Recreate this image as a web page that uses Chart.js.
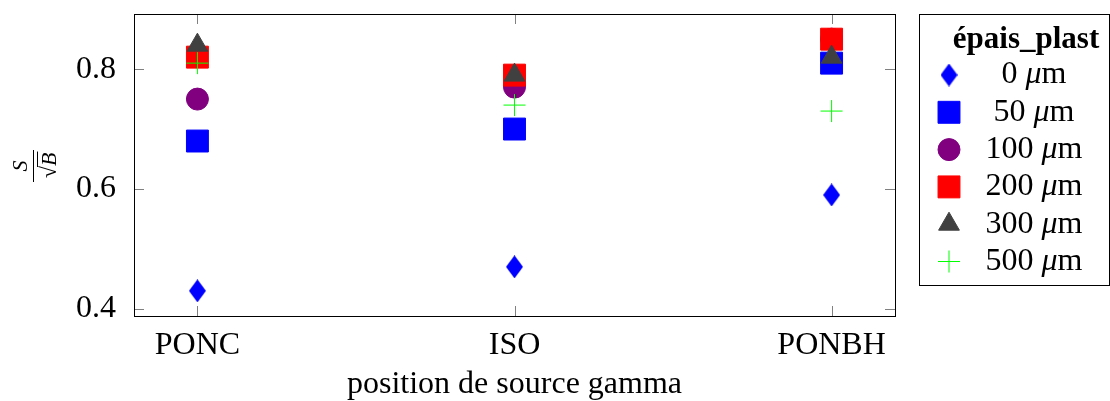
<!DOCTYPE html>
<html>
<head>
<meta charset="utf-8">
<script src="https://cdn.jsdelivr.net/npm/chart.js@4.4.0/dist/chart.umd.min.js"></script>
<style>
  html, body { margin: 0; padding: 0; background: #fff; }
  #wrap { width: 1110px; height: 401px; }
</style>
</head>
<body>
<div id="wrap"><canvas id="scatterChart" width="1110" height="401"></canvas></div>
<script>
/* ====== DATA ====== */
const positions = ['PONC', 'ISO', 'PONBH'];
const yTicks = [0.4, 0.6, 0.8];
const thicknessLabels = ['0 μm', '50 μm', '100 μm', '200 μm', '300 μm', '500 μm'];

const vals0 = [0.43, 0.47, 0.59];
const vals50 = [0.68, 0.70, 0.81];
const vals100 = [0.75, 0.77, 0.85];
const vals200 = [0.82, 0.79, 0.85];
const vals300 = [0.84, 0.79, 0.82];
const vals500 = [0.81, 0.74, 0.73];

const SERIF = "'Liberation Serif', 'DejaVu Serif', serif";

function toPoints(values) {
  return values.map((v, i) => ({ x: i, y: v }));
}

// narrow diamond marker (pgfplots style), drawn once on a small canvas
function makeDiamond(color, w, h) {
  const c = document.createElement('canvas');
  c.width = w; c.height = h;
  const g = c.getContext('2d');
  g.fillStyle = color;
  g.beginPath();
  g.moveTo(w / 2, 0); g.lineTo(w, h / 2); g.lineTo(w / 2, h); g.lineTo(0, h / 2);
  g.closePath();
  g.fill();
  return c;
}
const diamond = makeDiamond('#0000ff', 17, 23);

const seriesStyles = [
  { data: vals0,   color: '#0000ff', pointStyle: diamond,    radius: 11 },
  { data: vals50,  color: '#0000ff', pointStyle: 'rect',     radius: 15.5 },
  { data: vals100, color: '#800080', pointStyle: 'circle',   radius: 11 },
  { data: vals200, color: '#ff0000', pointStyle: 'rect',     radius: 15.5 },
  { data: vals300, color: '#404040', pointStyle: 'triangle', radius: 12 },
  { data: vals500, color: '#00ff00', pointStyle: 'cross',    radius: 11 }
];

const datasets = seriesStyles.map((s, i) => ({
  label: thicknessLabels[i],
  data: toPoints(s.data),
  pointStyle: s.pointStyle,
  pointRadius: s.radius,
  pointHoverRadius: s.radius,
  backgroundColor: s.color,
  borderColor: s.color,
  borderWidth: 1,
  order: seriesStyles.length - i   // later series drawn on top
}));

/* ====== PLUGINS ====== */
// box + inside ticks like pgfplots
const frameTicks = {
  id: 'frameTicks',
  afterDatasetsDraw(chart) {
    const { ctx, chartArea: a, scales } = chart;
    ctx.save();
    ctx.strokeStyle = '#808080';
    ctx.lineWidth = 1;
    const len = 10;
    scales.x.ticks.forEach(t => {
      const px = Math.round(scales.x.getPixelForValue(t.value)) + 0.5;
      ctx.beginPath();
      ctx.moveTo(px, a.bottom); ctx.lineTo(px, a.bottom - len);
      ctx.moveTo(px, a.top); ctx.lineTo(px, a.top + len);
      ctx.stroke();
    });
    scales.y.ticks.forEach(t => {
      const py = Math.round(scales.y.getPixelForValue(t.value)) + 0.5;
      ctx.beginPath();
      ctx.moveTo(a.left, py); ctx.lineTo(a.left + len, py);
      ctx.moveTo(a.right, py); ctx.lineTo(a.right - len, py);
      ctx.stroke();
    });
    ctx.strokeStyle = '#000';
    ctx.strokeRect(Math.round(a.left) + 0.5, Math.round(a.top) + 0.5,
      Math.round(a.right - a.left), Math.round(a.bottom - a.top));
    ctx.restore();
  }
};

// y title as a fraction S / sqrt(B)
const fractionTitle = {
  id: 'fractionTitle',
  afterDraw(chart) {
    const { ctx } = chart;
    ctx.save();
    ctx.translate(33, 166);
    ctx.rotate(-Math.PI / 2);
    ctx.fillStyle = '#000';
    ctx.strokeStyle = '#000';
    ctx.lineWidth = 1;
    ctx.textBaseline = 'alphabetic';
    ctx.font = 'italic 22px ' + SERIF;
    ctx.textAlign = 'center';
    ctx.fillText('S', 0, -6);
    ctx.beginPath();
    ctx.moveTo(-16, 0.5); ctx.lineTo(16, 0.5);
    ctx.stroke();
    ctx.font = '22px ' + SERIF;
    ctx.textAlign = 'right';
    ctx.fillText('√', 0, 23);
    ctx.font = 'italic 22px ' + SERIF;
    ctx.textAlign = 'left';
    const wB = ctx.measureText('B').width;
    ctx.fillText('B', 0, 23);
    ctx.beginPath();
    ctx.moveTo(-1, 4.5); ctx.lineTo(wB + 1, 4.5);
    ctx.stroke();
    ctx.restore();
  }
};

// legend box to the right of the plot
const sideLegend = {
  id: 'sideLegend',
  afterDraw(chart) {
    const { ctx } = chart;
    const box = { left: 919.5, top: 14.5, width: 190, height: 271 };
    ctx.save();
    ctx.strokeStyle = '#000';
    ctx.lineWidth = 1;
    ctx.strokeRect(box.left, box.top, box.width, box.height);
    ctx.fillStyle = '#000';
    ctx.textAlign = 'center';
    ctx.textBaseline = 'middle';
    ctx.font = 'bold 31px ' + SERIF;
    ctx.fillText('épais_plast', 1026, 40);
    chart.data.datasets.forEach((ds, i) => {
      const y = 75 + i * 37.3;
      ctx.fillStyle = ds.backgroundColor;
      ctx.strokeStyle = ds.borderColor;
      ctx.lineWidth = 1;
      Chart.helpers.drawPoint(ctx, { pointStyle: ds.pointStyle, radius: ds.pointRadius, borderWidth: 1 }, 949, y);
      // number upright, mu italic, unit upright
      const parts = ds.label.split(' ');
      const num = parts[0] + ' ';
      const up = '32px ' + SERIF, it = 'italic 32px ' + SERIF;
      ctx.font = up; const wNum = ctx.measureText(num).width;
      ctx.font = it; const wMu = ctx.measureText('μ').width;
      ctx.font = up; const wM = ctx.measureText('m').width;
      let x = 1034 - (wNum + wMu + wM) / 2;
      ctx.fillStyle = '#000';
      ctx.textAlign = 'left';
      ctx.font = up; ctx.fillText(num, x, y); x += wNum;
      ctx.font = it; ctx.fillText('μ', x, y); x += wMu;
      ctx.font = up; ctx.fillText('m', x, y);
      ctx.textAlign = 'center';
    });
    ctx.restore();
  }
};

/* ====== CHART ====== */
new Chart(document.getElementById('scatterChart').getContext('2d'), {
  type: 'scatter',
  data: { datasets },
  options: {
    responsive: false,
    animation: false,
    layout: { autoPadding: false, padding: { left: 0, top: 0, right: 215, bottom: 0 } },
    plugins: { legend: { display: false }, tooltip: { enabled: false } },
    scales: {
      x: {
        type: 'linear',
        min: -0.2,
        max: 2.2,
        afterBuildTicks: s => { s.ticks = positions.map((p, i) => ({ value: i })); },
        afterFit: s => { s.height = 85; },
        grid: { display: false },
        border: { display: false },
        ticks: {
          color: '#000',
          padding: 2,
          font: { family: SERIF, size: 32 },
          callback: v => positions[v]
        },
        title: {
          display: true,
          text: 'position de source gamma',
          color: '#000',
          font: { family: SERIF, size: 32 },
          padding: { top: -3, bottom: -3 }
        }
      },
      y: {
        min: 0.388,
        max: 0.892,
        afterBuildTicks: s => { s.ticks = yTicks.map(v => ({ value: v })); },
        afterFit: s => { s.width = 134; s.paddingTop = 14; s.paddingBottom = 0; },
        grid: { display: false },
        border: { display: false },
        ticks: {
          color: '#000',
          padding: 10,
          font: { family: SERIF, size: 32 },
          callback: v => v.toFixed(1)
        }
      }
    }
  },
  plugins: [frameTicks, fractionTitle, sideLegend]
});
</script>
</body>
</html>
